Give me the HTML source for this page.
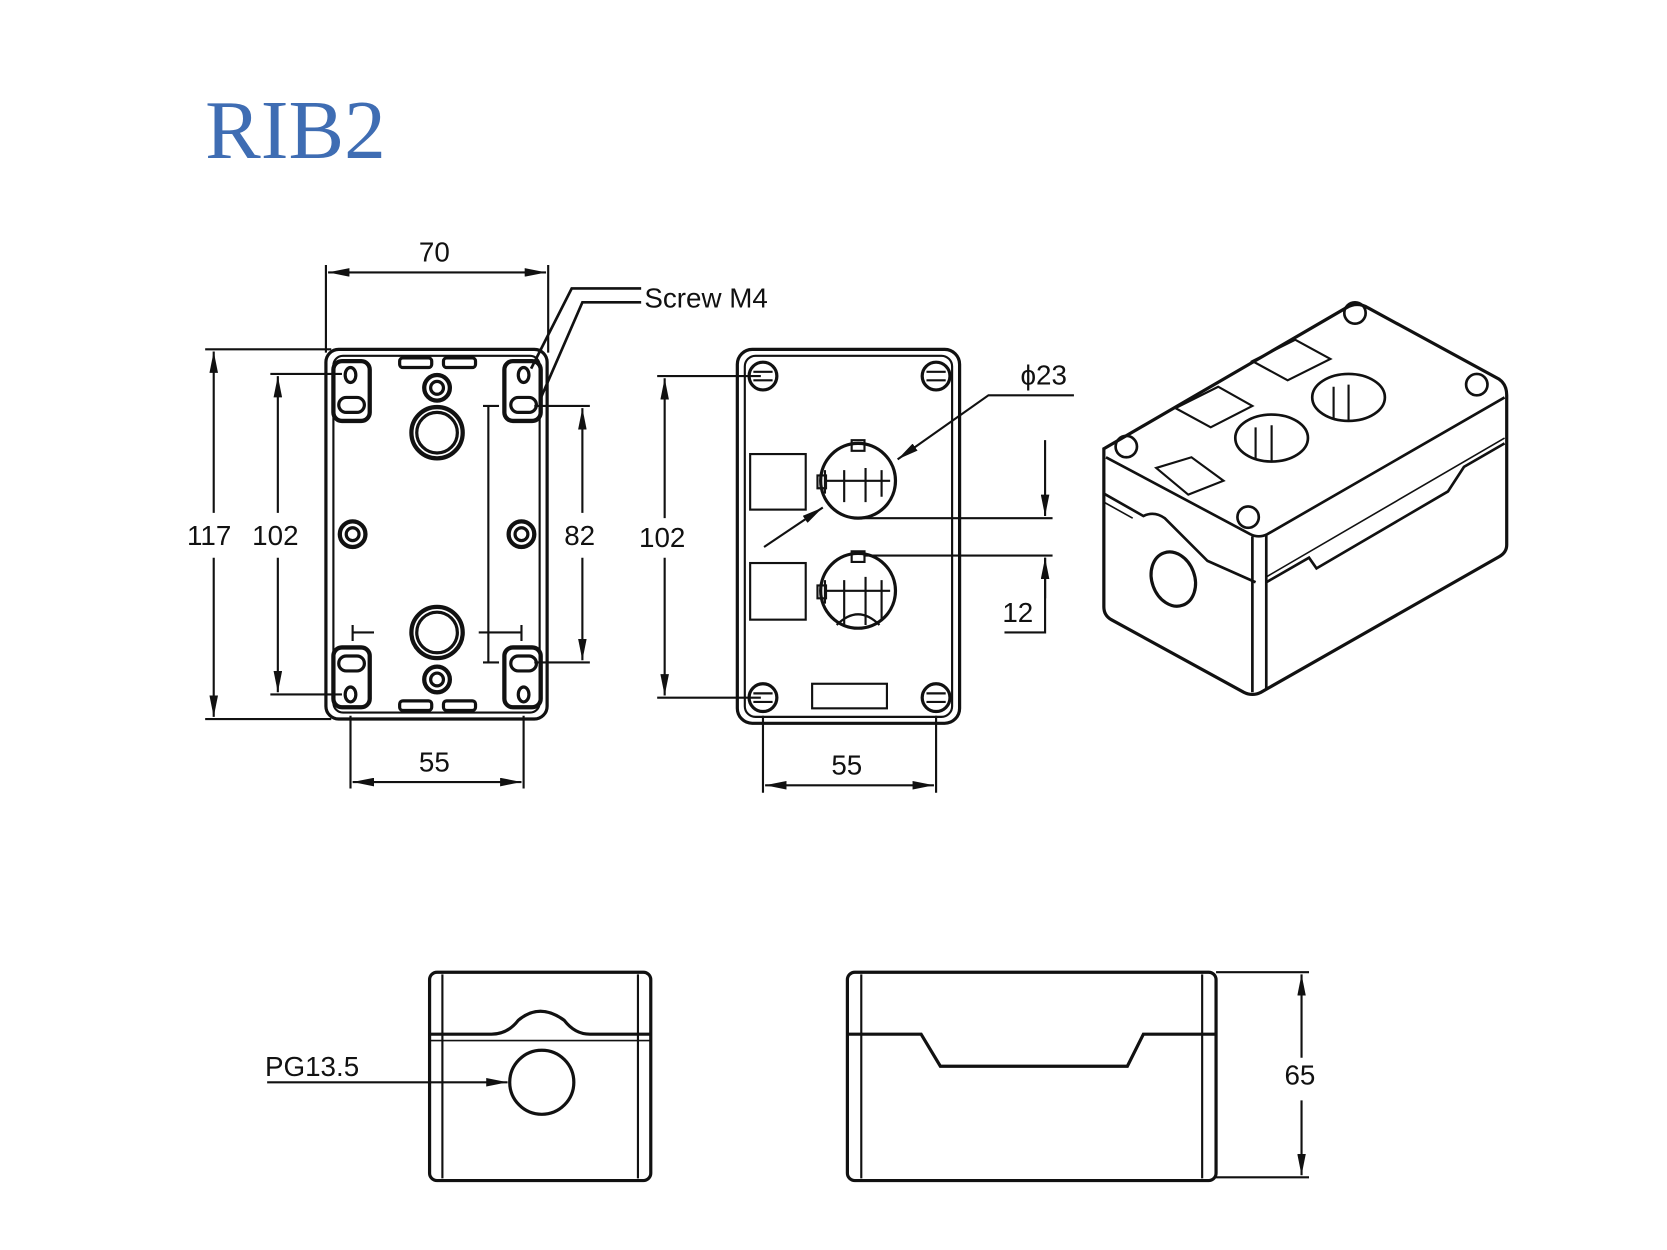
<!DOCTYPE html>
<html><head><meta charset="utf-8"><style>
html,body{margin:0;padding:0;background:#fff;}
svg{display:block;}
text{font-family:"Liberation Sans",sans-serif;font-size:26px;fill:#111;}
</style></head><body>
<svg width="1667" height="1250" viewBox="0 0 1560 1170" preserveAspectRatio="none" xmlns="http://www.w3.org/2000/svg">
<defs>
<marker id="a" viewBox="0 0 20 8" refX="20" refY="4" markerWidth="20" markerHeight="8" orient="auto-start-reverse" markerUnits="userSpaceOnUse"><path d="M0,0 L20,4 L0,8 Z" fill="#111"/></marker>
</defs>
<rect width="1560" height="1170" fill="#fff"/>
<text x="192" y="148" style="font-family:'Liberation Serif',serif;font-size:78px;fill:#3f6db3">RIB2</text>

<g fill="none" stroke="#111" stroke-width="3">
<!-- LEFT VIEW -->
<rect x="305" y="327" width="207" height="346" rx="12"/>
<rect x="312" y="333" width="193" height="334" rx="9" stroke-width="2"/>
<rect x="374" y="335" width="30" height="9" rx="3"/><rect x="415" y="335" width="30" height="9" rx="3"/>
<rect x="374" y="656" width="30" height="9" rx="3"/><rect x="415" y="656" width="30" height="9" rx="3"/>
<rect x="312" y="338" width="34" height="56" rx="8" stroke-width="4"/>
<rect x="472" y="338" width="34" height="56" rx="8" stroke-width="4"/>
<rect x="312" y="606" width="34" height="56" rx="8" stroke-width="4"/>
<rect x="472" y="606" width="34" height="56" rx="8" stroke-width="4"/>
<ellipse cx="328" cy="351" rx="5" ry="7"/><rect x="317" y="372" width="24" height="14" rx="7"/>
<ellipse cx="490" cy="351" rx="5" ry="7"/><rect x="478" y="372" width="24" height="14" rx="7"/>
<ellipse cx="328" cy="650" rx="5" ry="7"/><rect x="317" y="614" width="24" height="14" rx="7"/>
<ellipse cx="490" cy="650" rx="5" ry="7"/><rect x="478" y="614" width="24" height="14" rx="7"/>
<circle cx="409" cy="363" r="12" stroke-width="4"/><circle cx="409" cy="363" r="6"/>
<circle cx="409" cy="405" r="24" stroke-width="4"/><circle cx="409" cy="405" r="19"/>
<circle cx="330" cy="500" r="12" stroke-width="4"/><circle cx="330" cy="500" r="6"/>
<circle cx="488" cy="500" r="12" stroke-width="4"/><circle cx="488" cy="500" r="6"/>
<circle cx="409" cy="592" r="24" stroke-width="4"/><circle cx="409" cy="592" r="19"/>
<circle cx="409" cy="636" r="12" stroke-width="4"/><circle cx="409" cy="636" r="6"/>
<path d="M457,380 V620 M452,380 H467 M452,620 H467 M350,592 H330 M330,585 V600 M448,592 H488 M488,585 V600" stroke-width="2"/>
<!-- left dims -->
<path d="M305,248 V330 M513,248 V330 M192,327 H310 M192,673 H310 M253,350 H320 M253,650 H320 M500,380 H552 M500,620 H552 M328,670 V738 M490,670 V738" stroke-width="2"/>
<path d="M307,255 H511" marker-start="url(#a)" marker-end="url(#a)" stroke-width="2"/>
<path d="M200,480 V329" marker-end="url(#a)" stroke-width="2"/><path d="M200,522 V671" marker-end="url(#a)" stroke-width="2"/>
<path d="M260,480 V352" marker-end="url(#a)" stroke-width="2"/><path d="M260,522 V648" marker-end="url(#a)" stroke-width="2"/>
<path d="M545,480 V382" marker-end="url(#a)" stroke-width="2"/><path d="M545,522 V618" marker-end="url(#a)" stroke-width="2"/>
<path d="M330,732 H488" marker-start="url(#a)" marker-end="url(#a)" stroke-width="2"/>
<path d="M497,345 L535,270 H600 M505,375 L545,283 H600" stroke-width="2.5"/>

<!-- MIDDLE VIEW -->
<rect x="690" y="327" width="208" height="350" rx="14"/>
<rect x="697" y="333" width="194" height="338" rx="10" stroke-width="2"/>
<g stroke-width="3"><circle cx="714" cy="352" r="13"/><circle cx="876" cy="352" r="13"/><circle cx="714" cy="653" r="13"/><circle cx="876" cy="653" r="13"/></g>
<path d="M705,348 H723 M705,356 H723 M867,348 H885 M867,356 H885 M705,649 H723 M705,657 H723 M867,649 H885 M867,657 H885" stroke-width="2"/>
<rect x="702" y="425" width="52" height="52" stroke-width="2"/><rect x="702" y="527" width="52" height="53" stroke-width="2"/>
<circle cx="803" cy="450" r="35"/><circle cx="803" cy="553" r="35"/>
<path d="M772,440 V462 M790,440 V470 M810,438 V470 M825,440 V465 M773,450 H833 M797,412 h12 v10 h-12 z M765,445 h8 v12 h-8 z" stroke-width="2"/>
<path d="M772,543 V565 M790,543 V585 M810,540 V585 M825,543 V580 M773,553 H833 M797,516 h12 v10 h-12 z M765,548 h8 v12 h-8 z M783,585 Q803,565 823,585" stroke-width="2"/>
<rect x="760" y="640" width="70" height="23" stroke-width="2"/>
<path d="M615,352 H712 M615,653 H712 M714,670 V742 M876,670 V742" stroke-width="2"/>
<path d="M622,485 V354" marker-end="url(#a)" stroke-width="2"/><path d="M622,522 V651" marker-end="url(#a)" stroke-width="2"/>
<path d="M716,735 H874" marker-start="url(#a)" marker-end="url(#a)" stroke-width="2"/>
<path d="M1005,370 H925 L840,430" marker-end="url(#a)" stroke-width="2"/>
<path d="M715,512 L770,475" marker-end="url(#a)" stroke-width="2"/>
<path d="M808,485 H985 M808,520 H985 M940,592 H978 V522" stroke-width="2"/>
<path d="M978,412 V483" marker-end="url(#a)" stroke-width="2"/><path d="M978,560 V522" marker-end="url(#a)" stroke-width="2"/>

<!-- 3D VIEW -->
<path d="M1033,420 L1260,288 Q1270,282 1280,288 L1403,355 Q1410,360 1410,370 L1410,510 Q1410,517 1403,521 L1180,648 Q1172,652 1164,648 L1040,580 Q1033,576 1033,568 Z"/>
<path d="M1035,428 L1170,500 Q1178,504 1186,500 L1408,372" stroke-width="2.5"/>
<path d="M1172,502 V648 M1185,500 V645" stroke-width="2.5"/>
<path d="M1033,462 L1070,483 Q1080,478 1090,485 L1130,525 L1175,545 M1185,545 L1225,522 L1232,532 L1355,460 L1370,437 L1408,415" stroke-width="2.5"/>
<path d="M1033,470 L1060,485 M1185,540 L1408,410" stroke-width="1.5"/>
<ellipse cx="1098" cy="542" rx="20" ry="26" transform="rotate(-20 1098 542)" stroke-width="3"/>
<ellipse cx="1190" cy="410" rx="34" ry="22" stroke-width="2.5"/>
<ellipse cx="1262" cy="372" rx="34" ry="22" stroke-width="2.5"/>
<path d="M1175,400 V430 M1190,398 V432 M1248,362 V392 M1262,360 V394" stroke-width="2"/>
<path d="M1100,382 L1140,362 L1172,380 L1133,400 Z M1172,338 L1212,318 L1245,336 L1205,356 Z M1082,438 L1115,428 L1145,450 L1112,463 Z" stroke-width="2"/>
<g stroke-width="2.5"><circle cx="1054" cy="418" r="10"/><circle cx="1268" cy="293" r="10"/><circle cx="1382" cy="360" r="10"/><circle cx="1168" cy="484" r="10"/></g>

<!-- BOTTOM LEFT -->
<rect x="402" y="910" width="207" height="195" rx="7"/>
<path d="M414,912 V1103 M597,912 V1103" stroke-width="2"/>
<path d="M402,968 H460 Q475,968 485,955 Q505,938 528,955 Q538,968 552,968 H609" stroke-width="3"/>
<path d="M402,974 H609" stroke-width="1.5"/>
<ellipse cx="507" cy="1013" rx="30" ry="30"/>
<path d="M250,1013 H475" marker-end="url(#a)" stroke-width="2"/>

<!-- BOTTOM RIGHT -->
<rect x="793" y="910" width="345" height="195" rx="7"/>
<path d="M806,912 V1103 M1125,912 V1103" stroke-width="2"/>
<path d="M793,968 H862 L880,998 H1055 L1070,968 H1138" stroke-width="3"/>
<path d="M1138,910 H1225 M1138,1102 H1225" stroke-width="2"/>
<path d="M1218,990 V912" marker-end="url(#a)" stroke-width="2"/><path d="M1218,1030 V1100" marker-end="url(#a)" stroke-width="2"/>
</g>

<text x="392" y="245">70</text>
<text x="603" y="288">Screw M4</text>
<text x="175" y="510">117</text>
<text x="236" y="510">102</text>
<text x="528" y="510">82</text>
<text x="392" y="722">55</text>
<text x="598" y="512">102</text>
<text x="778" y="725">55</text>
<text x="955" y="360">ϕ23</text>
<text x="938" y="582">12</text>
<text x="248" y="1007">PG13.5</text>
<text x="1202" y="1015">65</text>
</svg>
</body></html>
